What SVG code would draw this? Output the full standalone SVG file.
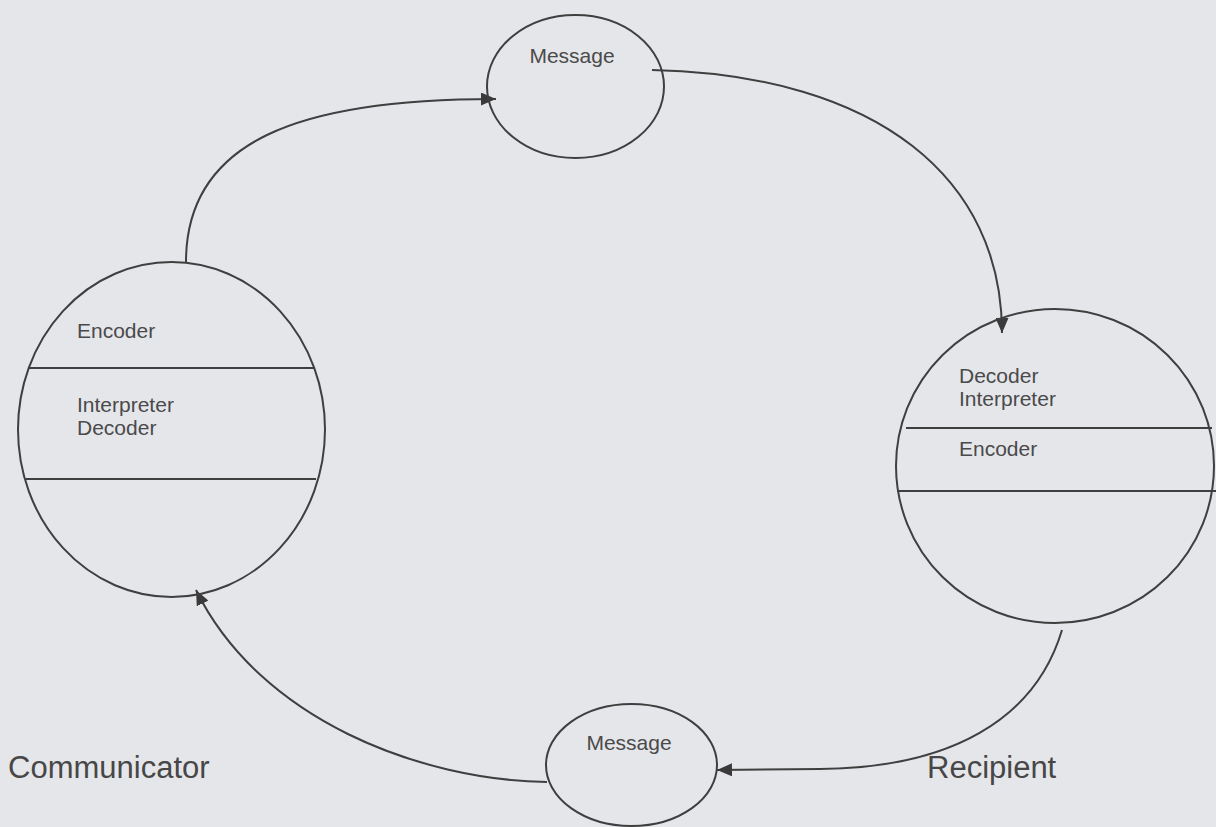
<svg xmlns="http://www.w3.org/2000/svg" width="1216" height="827" viewBox="0 0 1216 827">
  <style>
    .shape { fill: none; stroke: #3f3f3f; stroke-width: 2; }
    .divider { stroke: #3f3f3f; stroke-width: 2; }
    .link { fill: none; stroke: #3f3f3f; stroke-width: 2; marker-end: url(#arrow); }
    .label { font-family: "Liberation Sans", Arial, sans-serif; font-size: 21px; fill: #4a4a4a; }
    .role { font-family: "Liberation Sans", Arial, sans-serif; font-size: 31px; fill: #474747; }
  </style>
  <defs>
    <marker id="arrow" markerUnits="userSpaceOnUse" markerWidth="15" markerHeight="13" refX="15" refY="6.5" orient="auto">
      <path d="M0,0 L15,6.5 L0,13 z" fill="#3a3a3a"/>
    </marker>
  </defs>

  <rect x="0" y="0" width="1216" height="827" fill="#e5e6ea"/>

  <!-- connectors -->
  <g id="connectors">
    <path class="link" d="M186,262 C186,140 300,99 496,99"/>
    <path class="link" d="M652,70 C880,75 1002,180 1002,333"/>
    <path class="link" d="M1062,630 C1035,720 950,768 820,769 L717,770"/>
    <path class="link" d="M547,782 C420,780 260,720 196,590"/>
  </g>

  <!-- message sent out -->
  <g id="message-top">
    <ellipse class="shape" cx="575.5" cy="86.5" rx="88.5" ry="71.5"/>
    <text class="label" x="572" y="63" text-anchor="middle">Message</text>
  </g>

  <!-- communicator node -->
  <g id="communicator-node">
    <ellipse class="shape" cx="171.5" cy="429.5" rx="153.5" ry="167.5"/>
    <line class="divider" x1="28" y1="368" x2="314" y2="368"/>
    <line class="divider" x1="26" y1="479" x2="316" y2="479"/>
    <text class="label" x="77" y="338">Encoder</text>
    <text class="label" x="77" y="412">Interpreter</text>
    <text class="label" x="77" y="435">Decoder</text>
  </g>

  <!-- recipient node -->
  <g id="recipient-node">
    <ellipse class="shape" cx="1055" cy="466" rx="159" ry="157"/>
    <line class="divider" x1="906" y1="428" x2="1212" y2="428"/>
    <line class="divider" x1="897" y1="491" x2="1216" y2="491"/>
    <text class="label" x="959" y="383">Decoder</text>
    <text class="label" x="959" y="406">Interpreter</text>
    <text class="label" x="959" y="456">Encoder</text>
  </g>

  <!-- message sent back -->
  <g id="message-bottom">
    <ellipse class="shape" cx="631.5" cy="765" rx="85.5" ry="61"/>
    <text class="label" x="629" y="750" text-anchor="middle">Message</text>
  </g>

  <g id="role-labels">
    <text class="role" x="8" y="778">Communicator</text>
    <text class="role" x="927" y="778">Recipient</text>
  </g>
</svg>
